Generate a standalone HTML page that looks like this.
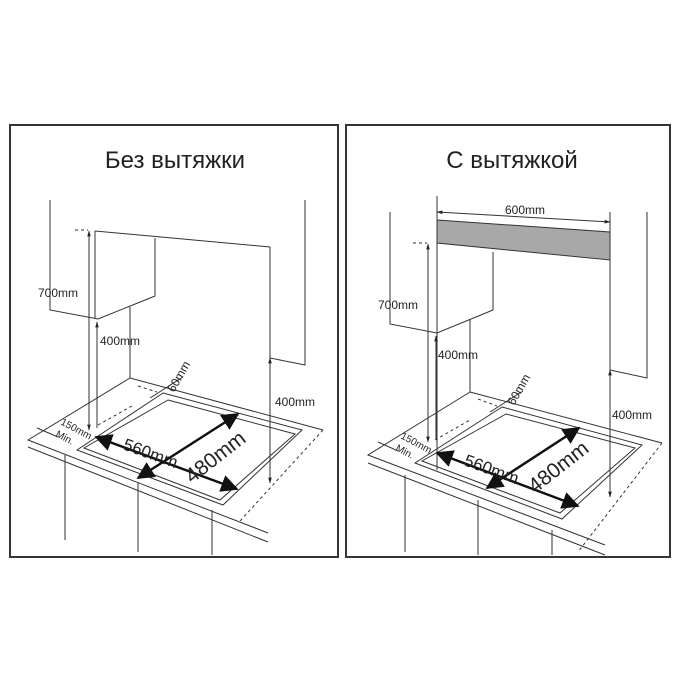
<!DOCTYPE html>
<html><head><meta charset="utf-8"><style>
html,body{margin:0;padding:0;background:#fff;width:680px;height:680px;overflow:hidden}
svg{display:block}
text{font-family:"Liberation Sans",Arial,sans-serif;fill:#222}
</style></head><body>
<svg width="680" height="680" viewBox="0 0 680 680" xmlns="http://www.w3.org/2000/svg">
<defs>
<marker id="a" viewBox="0 0 10 10" refX="9" refY="5" markerWidth="7" markerHeight="7" orient="auto-start-reverse"><path d="M0,0L10,5L0,10z" fill="#111"/></marker>
<marker id="s" viewBox="0 0 10 10" refX="9" refY="5" markerWidth="6" markerHeight="6" orient="auto-start-reverse"><path d="M0,2L10,5L0,8z" fill="#222"/></marker>
</defs>
<g fill="none" stroke="#333" stroke-width="2">
<rect x="10" y="125" width="328" height="432"/>
<rect x="346" y="125" width="324" height="432"/>
</g>
<text x="175" y="168" font-size="24" text-anchor="middle">Без вытяжки</text>
<text x="512" y="168" font-size="24" text-anchor="middle">С вытяжкой</text>

<!-- LEFT PANEL -->
<g fill="none" stroke="#333" stroke-width="1">
<path d="M50,200V310L98,319L155,296V238"/>
<path d="M95,231L270,247"/>
<path d="M95,231V319"/>
<path d="M130,307V378"/>
<path d="M305,200V365L270,358"/>
<path d="M130,378L323,430"/>
<path d="M130,378L28,440L268,533"/>
<path d="M28,447L268,542"/>
<path d="M323,430L240,521" stroke-dasharray="3,3"/>
<path d="M65,455V540M138,482V552M212,510V555"/>
<path d="M163,393L302,430L223,505L77,450Z"/>
<path d="M168,400L295,434L220,500L84,448Z"/>
<path d="M98,425L132,406" stroke-dasharray="3,3"/>
<path d="M138,386L157,392" stroke-dasharray="3,3"/>
<path d="M75,230H88" stroke-dasharray="3,3"/>
<path d="M89,231V430" marker-start="url(#s)" marker-end="url(#s)"/>
<path d="M97,322V428" marker-start="url(#s)"/>
<path d="M270,247V358"/>
<path d="M270,358V483" marker-start="url(#s)" marker-end="url(#s)"/>
<path d="M150,398L183,377"/>
<path d="M37,428L58,437"/>
</g>
<g stroke="#111" stroke-width="2.5" fill="none">
<path d="M96,437L237,489" marker-start="url(#a)" marker-end="url(#a)"/>
<path d="M138,478L238,414" marker-start="url(#a)" marker-end="url(#a)"/>
</g>
<text x="38" y="297" font-size="12">700mm</text>
<text x="100" y="345" font-size="12">400mm</text>
<text x="275" y="406" font-size="12">400mm</text>
<text font-size="12" transform="translate(174,393) rotate(-60)">60mm</text>
<text font-size="10" transform="translate(60,424) rotate(28)">150mm</text>
<text font-size="10" transform="translate(55,436) rotate(28)">Min.</text>
<text font-size="17" transform="translate(122,449) rotate(20)">560mm</text>
<text font-size="21" transform="translate(192,484) rotate(-38)">480mm</text>

<!-- RIGHT PANEL -->
<polygon points="437,220 610,232 610,260 437,243" fill="#a8a8a8" stroke="#333"/>
<g fill="none" stroke="#333" stroke-width="1">
<path d="M437,196V470M610,212V497"/>
<path d="M437,212L610,222" marker-start="url(#s)" marker-end="url(#s)"/>
<path d="M390,212V324L437,333L493,310V252"/>
<path d="M470,320V392"/>
<path d="M647,212V378L610,370"/>
<path d="M470,392L662,443"/>
<path d="M470,392L368,455L605,545"/>
<path d="M368,463L605,555"/>
<path d="M662,443L578,552" stroke-dasharray="3,3"/>
<path d="M405,475V552M478,500V555M552,530V555"/>
<path d="M502,407L642,445L562,519L415,463Z"/>
<path d="M506,414L635,448L560,513L422,461Z"/>
<path d="M435,440L470,420" stroke-dasharray="3,3"/>
<path d="M478,399L497,406" stroke-dasharray="3,3"/>
<path d="M413,243H427" stroke-dasharray="3,3"/>
<path d="M428,244V442" marker-start="url(#s)" marker-end="url(#s)"/>
<path d="M436,336V440" marker-start="url(#s)"/>
<path d="M610,370V497" marker-start="url(#s)" marker-end="url(#s)"/>
<path d="M490,412L523,391"/>
<path d="M378,442L398,451"/>
</g>
<g stroke="#111" stroke-width="2.5" fill="none">
<path d="M437,453L578,506" marker-start="url(#a)" marker-end="url(#a)"/>
<path d="M487,488L579,428" marker-start="url(#a)" marker-end="url(#a)"/>
</g>
<text x="505" y="214" font-size="12">600mm</text>
<text x="378" y="309" font-size="12">700mm</text>
<text x="438" y="359" font-size="12">400mm</text>
<text x="612" y="419" font-size="12">400mm</text>
<text font-size="12" transform="translate(514,406) rotate(-60)">60mm</text>
<text font-size="10" transform="translate(400,438) rotate(28)">150mm</text>
<text font-size="10" transform="translate(395,450) rotate(28)">Min.</text>
<text font-size="17" transform="translate(463,465) rotate(20)">560mm</text>
<text font-size="21" transform="translate(535,494) rotate(-38)">480mm</text>
</svg>
</body></html>
